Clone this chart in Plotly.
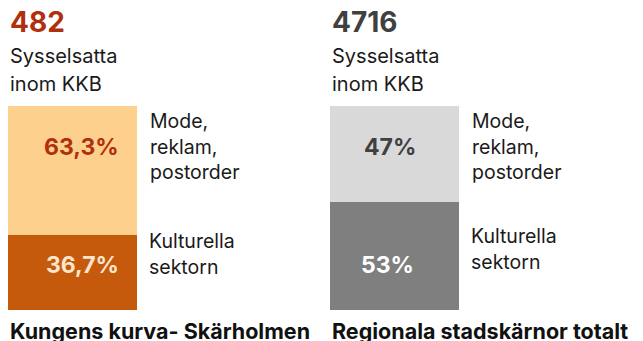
import plotly.graph_objects as go

# Employment within KKB: share by sub-sector, two areas
areas = ["Kungens kurva- Skärholmen", "Regionala stadskärnor totalt"]
employed = ["482", "4716"]
culture_share = [36.7, 53.0]       # Kulturella sektorn
fashion_share = [63.3, 47.0]       # Mode, reklam, postorder
culture_labels = ["36,7%", "53%"]
fashion_labels = ["63,3%", "47%"]

FONT = "Inter"
W, H = 643, 341
BAR_W = 0.4006

light_cols = ["#FDD08E", "#D9D9D9"]
dark_cols = ["#C55A0C", "#7F7F7F"]
head_cols = ["#B0300E", "#404040"]
fashion_txt_cols = ["#B0300E", "#404040"]
culture_txt_cols = ["#FCE6CC", "#FFFFFF"]

xs = list(range(len(areas)))

fig = go.Figure()
fig.add_trace(go.Bar(x=xs, y=culture_share, width=BAR_W,
                     marker=dict(color=dark_cols, line=dict(width=0)),
                     hoverinfo="skip"))
fig.add_trace(go.Bar(x=xs, y=fashion_share, width=BAR_W,
                     marker=dict(color=light_cols, line=dict(width=0)),
                     hoverinfo="skip"))

ann = []


def add_lines(lines, x, y_top_px, step, size, anchor_x, xshift, color, bold=False):
    # place each line separately so the line spacing is controlled exactly
    for k, line in enumerate(lines):
        txt = f"<b>{line}</b>" if bold else line
        ann.append(dict(x=x, y=1 - (y_top_px + k * step) / H, xref="x", yref="paper",
                        xanchor=anchor_x, yanchor="middle", xshift=xshift, text=txt,
                        showarrow=False, font=dict(family=FONT, size=size, color=color)))


for i in xs:
    left = i - BAR_W / 2
    right = i + BAR_W / 2
    total = culture_share[i] + fashion_share[i]
    # headline number and caption
    add_lines([employed[i]], left, 22, 0, 28, "left", 0, head_cols[i], bold=True)
    add_lines(["Sysselsatta", "inom KKB"], left, 56.5, 27, 20, "left", 0, "#1A1A1A")
    # percentage labels inside the bars
    ann.append(dict(x=right, y=total - 20, xref="x", yref="y", xanchor="right",
                    yanchor="middle", xshift=-16 if i == 0 else -41,
                    text=f"<b>{fashion_labels[i]}</b>", showarrow=False,
                    font=dict(family=FONT, size=23, color=fashion_txt_cols[i])))
    ann.append(dict(x=right, y=22, xref="x", yref="y", xanchor="right",
                    yanchor="middle", xshift=-16 if i == 0 else -43,
                    text=f"<b>{culture_labels[i]}</b>", showarrow=False,
                    font=dict(family=FONT, size=23, color=culture_txt_cols[i])))
    # segment names to the right of each bar
    add_lines(["Mode,", "reklam,", "postorder"], right, 121.3, 25.3, 19.5, "left", 11, "#1A1A1A")
    top_k = 240.8 if i == 0 else 235.5
    add_lines(["Kulturella", "sektorn"], right, top_k, 26, 19.5, "left", 10, "#1A1A1A")
    # area title under the bar
    add_lines([areas[i]], left, 330.5, 0, 21.5, "left", 0, "#111111", bold=True)

# axis ranges so that 0..100 spans the bar area and bars sit at fixed spots
px_per_unit_x = 322.0
x0 = -72.5 / px_per_unit_x
x1 = 1 + (W - 394.5) / px_per_unit_x
px_per_unit_y = 204 / 100.0
y1 = 100 + 106 / px_per_unit_y
y0 = -(H - 310) / px_per_unit_y

fig.update_layout(
    width=W, height=H, barmode="stack", showlegend=False,
    margin=dict(l=0, r=0, t=0, b=0),
    paper_bgcolor="white", plot_bgcolor="white",
    xaxis=dict(range=[x0, x1], visible=False, fixedrange=True),
    yaxis=dict(range=[y0, y1], visible=False, fixedrange=True),
    annotations=ann,
)

fig.write_html("out.html", config={"displayModeBar": False})
